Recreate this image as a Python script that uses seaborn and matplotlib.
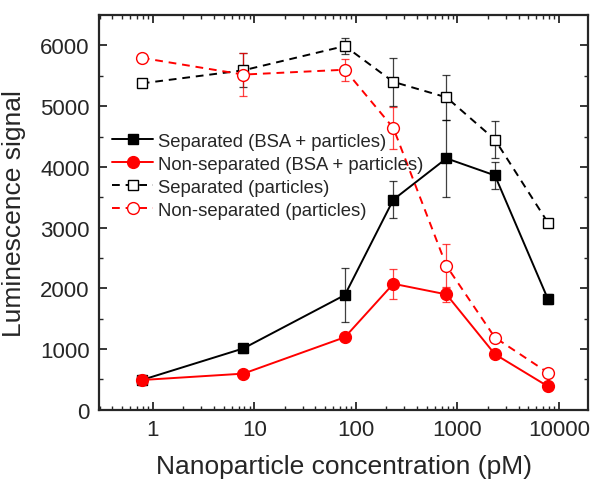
import numpy as np
import pandas as pd
import matplotlib
matplotlib.use("Agg")
import matplotlib.pyplot as plt
import seaborn as sns

# concentrations (pM)
conc = [0.78, 7.8, 78, 234, 780, 2340, 7800]

sep_bsa = [490, 1010, 1890, 3460, 4140, 3860, 1820]
sep_bsa_err = [50, 80, 450, 300, 640, 220, 80]

nonsep_bsa = [490, 595, 1195, 2075, 1900, 915, 385]
nonsep_bsa_err = [40, 30, 40, 250, 120, 40, 40]

sep_part = [5375, 5590, 5990, 5400, 5145, 4450, 3080]
sep_part_err = [50, 280, 130, 400, 370, 300, 50]

nonsep_part = [5795, 5520, 5600, 4640, 2370, 1190, 610]
nonsep_part_err = [50, 350, 180, 350, 360, 50, 50]

labels = ["Separated (BSA + particles)", "Non-separated (BSA + particles)",
          "Separated (particles)", "Non-separated (particles)"]

sns.set_style("ticks")
plt.rcParams['font.family'] = ['Liberation Sans', 'DejaVu Sans']

fig = plt.figure(figsize=(5.93, 4.81), dpi=100)
ax = fig.add_axes([0.1675, 0.146, 0.824, 0.8206])

series = [
    (sep_bsa, sep_bsa_err, "black", "s", "-", "black", 7.5),
    (nonsep_bsa, nonsep_bsa_err, "red", "o", "-", "red", 8.5),
    (sep_part, sep_part_err, "black", "s", (0, (4, 3)), "white", 7.5),
    (nonsep_part, nonsep_part_err, "red", "o", (0, (4, 3)), "white", 8.5),
]

for (vals, err, col, mk, ls, fc, ms), lab in zip(series, labels):
    df = pd.DataFrame({"conc": conc, "signal": vals})
    ax.errorbar(conc, vals, yerr=err, fmt="none", ecolor=col, elinewidth=0.9,
                capsize=3, capthick=0.9, alpha=0.75, zorder=2)
    sns.lineplot(data=df, x="conc", y="signal", ax=ax, color=col, marker=mk,
                 linestyle=ls, markerfacecolor=fc, markeredgecolor=col,
                 markeredgewidth=1.0, markersize=ms, linewidth=1.4,
                 label=lab, zorder=3)

ax.set_xscale("log")
ax.set_xlim(0.298, 19300)
ax.set_ylim(0, 6500)
ax.set_yticks(range(0, 7000, 1000))
ax.set_yticks(range(500, 6500, 1000), minor=True)
ax.set_xticks([1, 10, 100, 1000, 10000])
ax.set_xticklabels(["1", "10", "100", "1000", "10000"])
ax.tick_params(which="both", direction="in", top=True, right=True, labelsize=16)
ax.tick_params(which="major", length=6, width=1.3, pad=7)
ax.tick_params(which="minor", length=3, width=1)
for sp in ax.spines.values():
    sp.set_linewidth(1.6)

ax.set_xlabel("Nanoparticle concentration (pM)", fontsize=19, labelpad=10)
ax.set_ylabel("Luminescence signal", fontsize=19, labelpad=10)

ax.legend(loc="upper left", bbox_to_anchor=(0.0, 0.735), frameon=False,
          fontsize=13.3, handlelength=2.2, labelspacing=0.33, handletextpad=0.3,
          borderaxespad=0.3)

fig.savefig("out.png", dpi=100)
